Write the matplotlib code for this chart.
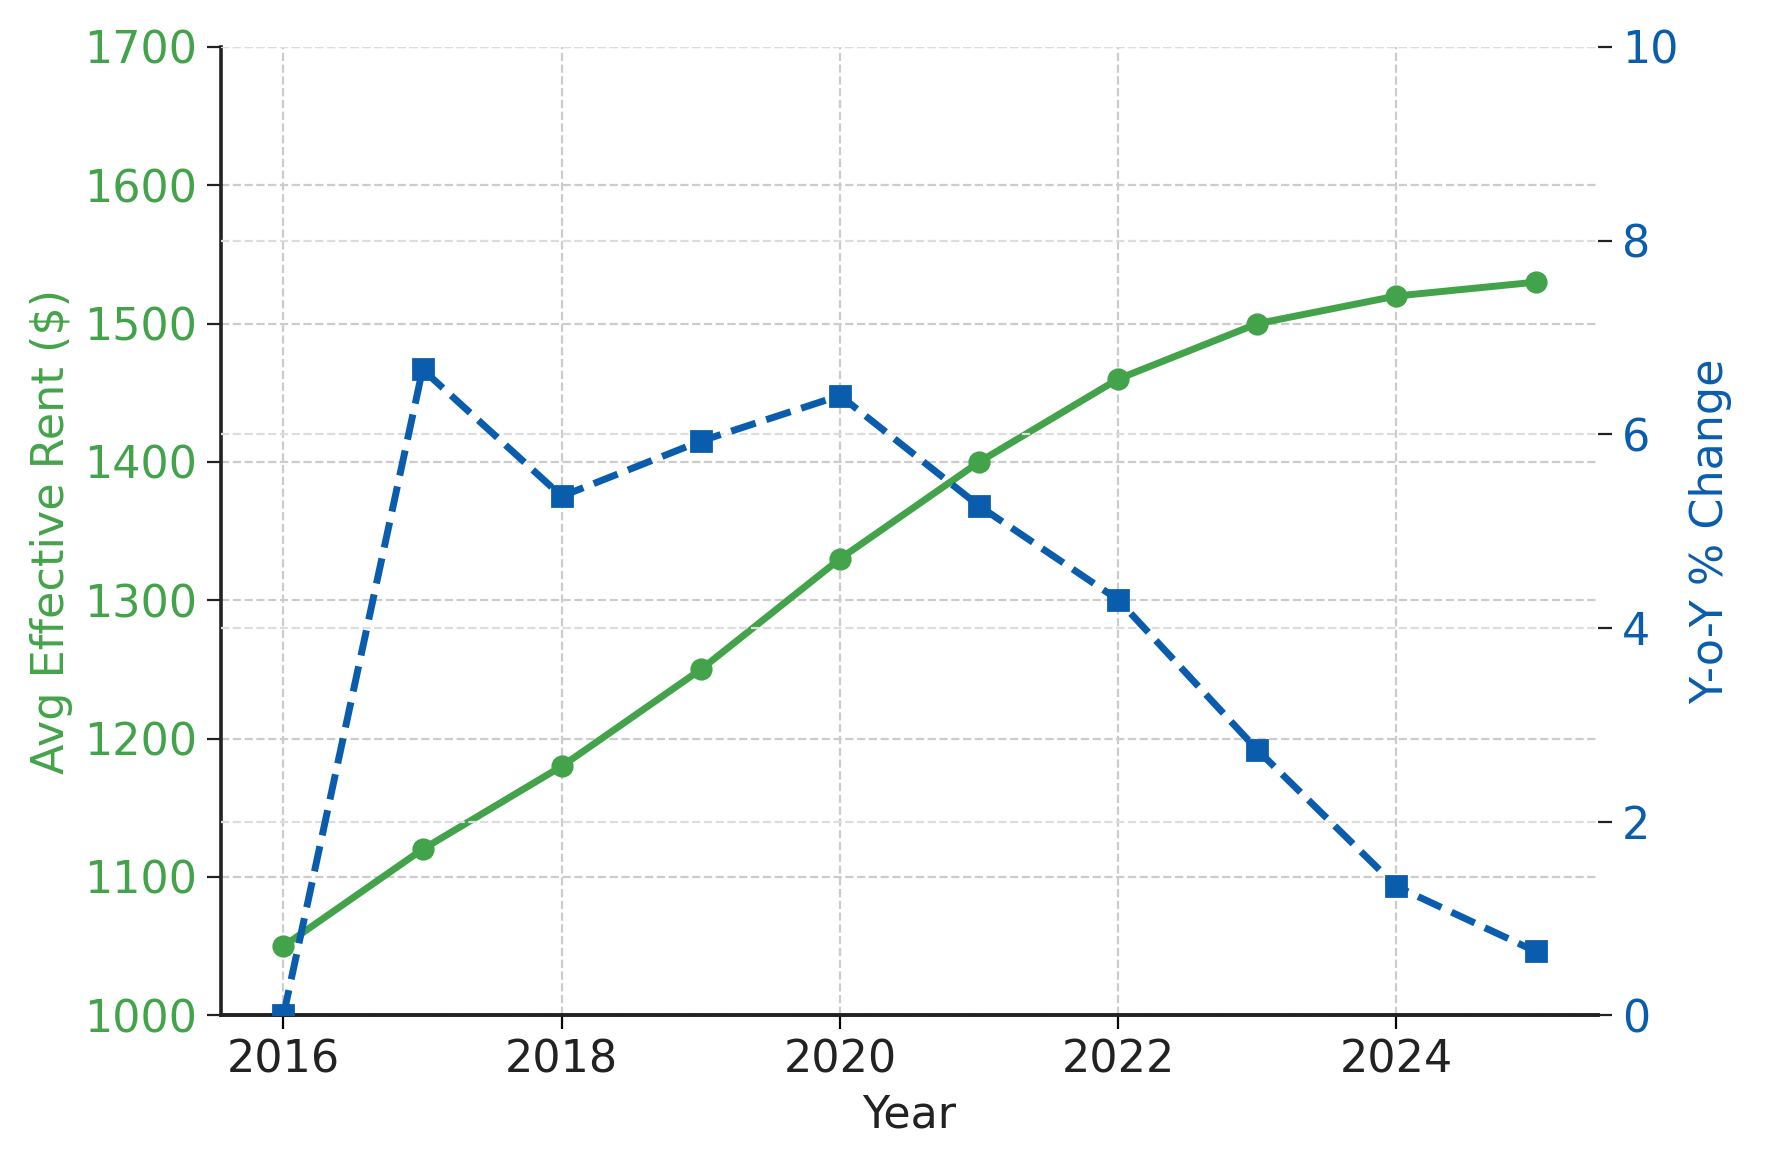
import matplotlib.pyplot as plt

# datos
years = [2016, 2017, 2018, 2019, 2020, 2021, 2022, 2023, 2024, 2025]
rent = [1050, 1120, 1180, 1250, 1330, 1400, 1460, 1500, 1520, 1530]
yoy = [0.0, 6.67, 5.36, 5.93, 6.40, 5.26, 4.29, 2.74, 1.33, 0.66]

green = '#43a34a'
blue = '#0a5dad'

fig, ax1 = plt.subplots(figsize=(8.83, 5.83), dpi=200)

ax1.plot(years, rent, color=green, lw=2.5, marker='o', ms=7, zorder=3)
ax1.set_ylim(1000, 1700)
ax1.set_xlabel('Year', fontsize=16, color='#222222')
ax1.set_ylabel('Avg Effective Rent ($)', fontsize=16, color=green)
ax1.tick_params(axis='y', colors=green, labelsize=16, direction='out', length=5)
ax1.tick_params(axis='y', color='#222222')
ax1.tick_params(axis='x', labelsize=16, labelcolor='#222222', direction='out', length=5)
ax1.set_xticks([2016, 2018, 2020, 2022, 2024])
ax1.grid(True, ls='--', color='#cccccc', lw=0.8)
ax1.spines['top'].set_visible(False)
ax1.spines['right'].set_visible(False)
for s in ['left', 'bottom']:
    ax1.spines[s].set_color('#222222')
    ax1.spines[s].set_linewidth(1.3)

ax2 = ax1.twinx()
ax2.plot(years, yoy, color=blue, lw=2.5, ls='--', marker='s', ms=7, zorder=3)
ax2.set_ylim(0, 10)
ax2.set_ylabel('Y-o-Y % Change', fontsize=16, color=blue)
ax2.tick_params(axis='y', colors=blue, labelsize=16, direction='out', length=5)
ax2.tick_params(axis='y', color='#222222')
ax2.set_yticks([0, 2, 4, 6, 8, 10])
ax2.set_yticks([1, 3, 5, 7, 9], minor=False) if False else None
ax2.grid(True, axis='y', ls='--', color='#dddddd', lw=0.8)
for s in ['top', 'right', 'left']:
    ax2.spines[s].set_visible(False)
ax2.spines['bottom'].set_color('#222222')
ax2.spines['bottom'].set_linewidth(1.3)

fig.tight_layout()
fig.subplots_adjust(right=0.905)
fig.savefig('out.png')
